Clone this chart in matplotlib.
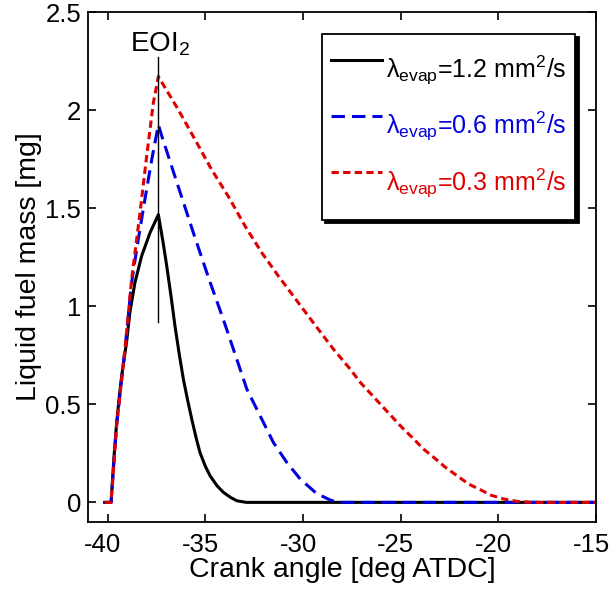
import matplotlib
matplotlib.use('Agg')
import numpy as np
import matplotlib.pyplot as plt
import matplotlib.transforms as mtransforms
from matplotlib.legend_handler import HandlerLine2D

plt.rcParams['font.family'] = ['Liberation Sans', 'DejaVu Sans']
plt.rcParams['mathtext.fontset'] = 'custom'
plt.rcParams['mathtext.rm'] = 'Liberation Sans'
plt.rcParams['mathtext.it'] = 'Liberation Sans:italic'
plt.rcParams['axes.unicode_minus'] = False

# crank angle [deg ATDC] / liquid fuel mass [mg]
ca_12 = [-40.15, -39.82, -39.68, -39.54, -39.4, -39.28, -39.03, -38.86, -38.6,
         -38.26, -37.83, -37.4, -37.15, -36.97, -36.75, -36.55, -36.33, -36.12,
         -35.9, -35.69, -35.47, -35.27, -35.0, -34.75, -34.4, -34.07, -33.7,
         -33.38, -32.9, -15]
m_12 = [0, 0, 0.22, 0.40, 0.54, 0.644, 0.814, 0.967, 1.12,
        1.255, 1.374, 1.467, 1.32, 1.204, 1.05, 0.899, 0.755, 0.628,
        0.52, 0.424, 0.33, 0.254, 0.185, 0.135, 0.085, 0.051, 0.025,
        0.008, 0, 0]

ca_06 = [-40.15, -39.82, -39.54, -39.11, -38.77, -38.43, -38.09, -37.74, -37.4,
         -37.2, -36.35, -35.55, -34.8, -34.1, -33.5, -32.87, -32.19, -31.51,
         -30.83, -30.14, -29.3, -28.6, -28.2, -15]
m_06 = [0, 0, 0.39, 0.78, 1.12, 1.34, 1.544, 1.747, 1.925,
        1.86, 1.60, 1.357, 1.136, 0.94, 0.763, 0.577, 0.441, 0.305,
        0.204, 0.119, 0.045, 0.012, 0, 0]

ca_03 = [-40.15, -39.82, -39.54, -39.11, -38.77, -38.34, -38.0, -37.66, -37.4,
         -36.38, -35.52, -34.67, -33.82, -32.96, -32.1, -31.25, -30.25, -29.5,
         -28.43, -27.57, -27.06, -26.03, -25.01, -24.41, -23.82, -23.3, -22.7,
         -22.1, -21.51, -20.91, -20.39, -19.71, -19.03, -18.3, -15]
m_03 = [0, 0, 0.39, 0.78, 1.136, 1.476, 1.764, 2.035, 2.171,
        2.002, 1.849, 1.696, 1.56, 1.408, 1.272, 1.153, 1.02, 0.92,
        0.78, 0.678, 0.611, 0.5, 0.39, 0.331, 0.271, 0.229, 0.178,
        0.135, 0.093, 0.064, 0.037, 0.017, 0.005, 0, 0]

eoi = -37.4
eoi_line = [0.92, 2.27]


# legend lines sit a bit above the text centre, like the original
class RaisedLine(HandlerLine2D):
    def create_artists(self, legend, orig_handle, xdescent, ydescent,
                       width, height, fontsize, trans):
        arts = super().create_artists(legend, orig_handle, xdescent, ydescent,
                                      width, height, fontsize, trans)
        for a in arts:
            a.set_ydata(np.full_like(np.asarray(a.get_ydata(), float),
                                     0.72 * fontsize))
        return arts


fig = plt.figure(figsize=(6.13, 5.98), dpi=100)
ax = fig.add_axes([0.1436, 0.1271, 0.8287, 0.8528])

ax.plot(ca_12, m_12, color='k', lw=2.2,
        label=r'λ$_{\mathrm{evap}}$=1.2 mm$^2$/s')
ax.plot(ca_06, m_06, color='#0000e0', lw=2.2, dashes=(4.4, 2.3),
        label=r'λ$_{\mathrm{evap}}$=0.6 mm$^2$/s')
ax.plot(ca_03, m_03, color='#e00000', lw=2.2, dashes=(2.4, 1.4),
        label=r'λ$_{\mathrm{evap}}$=0.3 mm$^2$/s')

ax.plot([eoi, eoi], eoi_line, color='k', lw=1)
ax.text(eoi + 0.1, 2.3, r'EOI$_2$', ha='center', va='baseline', fontsize=20)

ax.set_xlim(-41, -15)
ax.set_ylim(-0.1, 2.5)
ax.set_xticks([-40, -35, -30, -25, -20, -15])
ax.set_yticks([0, 0.5, 1, 1.5, 2, 2.5])
ax.set_yticklabels(['0', '0.5', '1', '1.5', '2', '2.5'])
ax.tick_params(direction='in', top=True, right=True, length=6, width=1.2,
               labelsize=18.5)
ax.tick_params(axis='x', pad=8)
ax.tick_params(axis='y', pad=5)
for s in ax.spines.values():
    s.set_linewidth(1.3)

# x tick labels sit a little left of their ticks in the original
shift = mtransforms.ScaledTranslation(-3.5 / 72, 0, fig.dpi_scale_trans)
for lab in ax.get_xticklabels():
    lab.set_transform(lab.get_transform() + shift)

ax.set_xlabel('Crank angle [deg ATDC]', fontsize=20.5, labelpad=0)
ax.set_ylabel('Liquid fuel mass [mg]', fontsize=20.5, labelpad=2)

leg = ax.legend(loc='upper right', bbox_to_anchor=(0.9587, 0.957),
                borderaxespad=0, fontsize=18, handlelength=2.05,
                handleheight=3.03, handletextpad=0.15, labelspacing=0.04,
                borderpad=0.35, fancybox=False, labelcolor='linecolor',
                handler_map={plt.Line2D: RaisedLine()},
                shadow={'color': 'k', 'alpha': 1, 'ox': 2.5, 'oy': -2.5})
leg.get_frame().set_edgecolor('k')
leg.get_frame().set_linewidth(1.3)

fig.savefig('out.png', dpi=100)
